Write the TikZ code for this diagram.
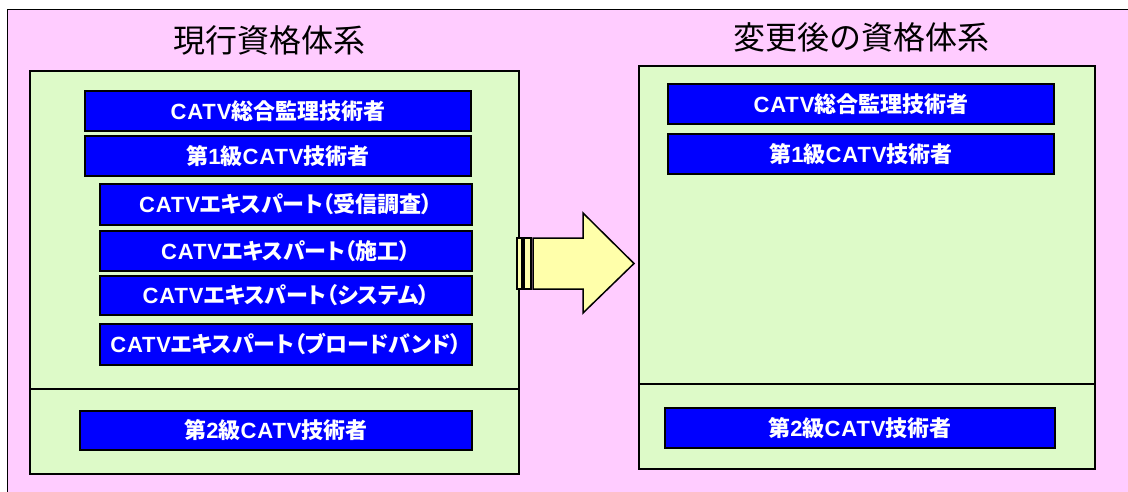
\documentclass[tikz,border=0pt]{standalone}
\usepackage{fontspec}
\setmainfont{Noto Sans CJK JP}
\newfontfamily\boxcjk{Noto Sans CJK JP}[RawFeature=+palt]
\newfontfamily\boxlat{Liberation Sans}[LetterSpace=4]
\newcommand{\lt}[1]{{\boxlat #1}}
\definecolor{bgpink}{RGB}{255,204,255}
\definecolor{panelgreen}{RGB}{221,250,200}
\definecolor{boxblue}{RGB}{0,0,255}
\definecolor{arrowyellow}{RGB}{255,255,170}
\begin{document}
\begin{tikzpicture}[x=1pt,y=-1pt,
  panel/.style={draw=black,line width=2pt,fill=panelgreen},
  bluebox/.style={draw=black,line width=2pt,fill=boxblue,text=white,
    font=\fontsize{22}{24}\selectfont\boxcjk\bfseries,inner sep=0pt,anchor=center},
  title/.style={font=\fontsize{32}{34}\selectfont,text=black,inner sep=0pt}]
\useasboundingbox (0,0) rectangle (1128,492);
% background
\fill[bgpink] (7,10) rectangle (1128,492);
\draw[line width=1pt] (7,492) -- (7,10) -- (1128,10);
% titles
\node[title] (t1) at (269,40) {現行資格体系};
\node[title] (t2) at (861,37) {変更後の資格体系};
% left panel
\draw[panel] (29.5,71) rectangle (519,474);
\draw[line width=2pt] (29.5,389) -- (519,389);
% right panel
\draw[panel] (639,66) rectangle (1095,469);
\draw[line width=2pt] (639,384) -- (1095,384);
% left boxes
\node[bluebox,minimum width=386pt,minimum height=40pt] (l1) at (278,111) {\lt{CATV}総合監理技術者};
\node[bluebox,minimum width=386pt,minimum height=40pt] (l2) at (278,156) {第\lt{1}級\lt{CATV}技術者};
\node[bluebox,minimum width=372pt,minimum height=41pt] (l3) at (286,204.5) {\lt{CATV}エキスパート（受信調査）};
\node[bluebox,minimum width=372pt,minimum height=40pt] (l4) at (286,251) {\lt{CATV}エキスパート（施工）};
\node[bluebox,minimum width=372pt,minimum height=39pt] (l5) at (286,295.5) {\lt{CATV}エキスパート（システム）};
\node[bluebox,minimum width=372pt,minimum height=41pt] (l6) at (286,344.5) {\lt{CATV}エキスパート（ブロードバンド）};
\node[bluebox,minimum width=392pt,minimum height=39pt] (l7) at (276,430.5) {第\lt{2}級\lt{CATV}技術者};
% right boxes
\node[bluebox,minimum width=386pt,minimum height=40pt] (r1) at (861,104) {\lt{CATV}総合監理技術者};
\node[bluebox,minimum width=386pt,minimum height=40pt] (r2) at (861,154) {第\lt{1}級\lt{CATV}技術者};
\node[bluebox,minimum width=390pt,minimum height=40pt] (r3) at (860,428) {第\lt{2}級\lt{CATV}技術者};
% arrow
\begin{scope}[line width=1.5pt,draw=black,fill=arrowyellow,line join=miter]
\filldraw (517,238) rectangle (522,289);
\filldraw (524,238) rectangle (531,289);
\filldraw (533,238) -- (583,238) -- (583,213) -- (634,263.5) -- (583,313) -- (583,289) -- (533,289) -- cycle;
\end{scope}
\end{tikzpicture}
\end{document}
